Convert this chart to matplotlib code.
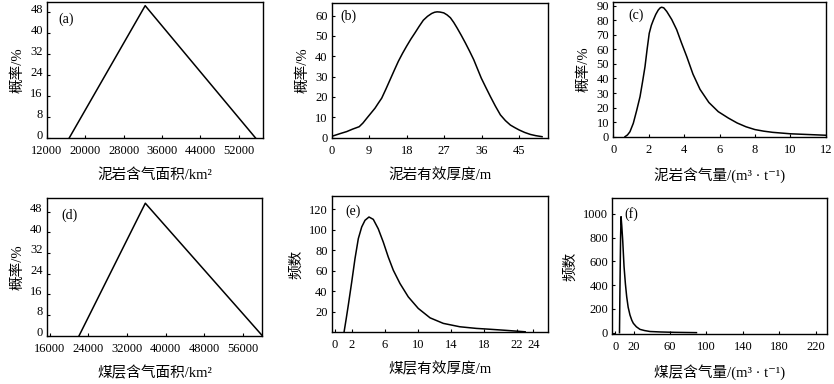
import matplotlib
matplotlib.use("Agg")
import matplotlib.pyplot as plt
import matplotlib.transforms as mtransforms

plt.rcParams["font.family"] = ["Liberation Serif", "Noto Sans CJK SC", "DejaVu Serif"]
plt.rcParams["font.size"] = 9
plt.rcParams["axes.linewidth"] = 1.0

# (a) mudstone gas-bearing area, triangular distribution
a_x = [16600, 32500, 55600]
a_y = [0, 50.6, 0]
a_ticks = [12000, 20000, 28000, 36000, 44000, 52000]

# (b) mudstone effective thickness
b_x = [0.2, 2, 3.6, 5, 6.6, 7.5, 8.4, 9.4, 10.4, 11.2, 12, 13, 14, 15, 16, 17, 18, 19, 20, 21, 22, 23, 24,
       24.7, 25.3, 26, 26.9, 27.7, 28.5, 29.3, 30.1, 31.1, 32.1, 33.1, 34.1, 35, 35.9, 37, 38.1, 39.3, 40.5,
       41.7, 42.9, 44, 45, 46.3, 47.7, 49, 50.5]
b_y = [0.8, 2, 3, 4.2, 5.4, 7.2, 9.5, 12, 14.5, 17, 19.4, 23.8, 28.4, 33, 37.5, 41.4, 45, 48.4, 51.5, 54.7,
       57.7, 59.6, 61, 61.6, 61.8, 61.7, 61.3, 60.3, 58.9, 56.6, 53.9, 50.3, 46.5, 42.5, 38.3, 33.8, 29.3,
       24.7, 20.2, 15.5, 11.2, 8.4, 6.2, 4.9, 3.8, 2.6, 1.6, 1, 0.5]
b_ticks = [0, 9, 18, 27, 36, 45]

# (c) mudstone gas content
c_x = [0.66, 0.8, 0.94, 1.13, 1.32, 1.51, 1.65, 1.79, 1.91, 2.03, 2.15, 2.26, 2.4, 2.54, 2.65, 2.73, 2.85,
       3.02, 3.3, 3.58, 3.85, 4.15, 4.5, 4.9, 5.4, 5.93, 6.5, 7, 7.5, 8, 8.5, 9, 10, 11, 12]
c_y = [0, 1.2, 3.4, 9.2, 18, 27.5, 37.5, 48, 60, 71, 76.5, 80, 84, 87, 88.5, 88.9, 88.5, 86, 80.5, 73.5, 64.5,
       55, 43, 32.5, 23.5, 17.2, 12.8, 9.4, 6.8, 4.9, 3.8, 3, 2, 1.5, 1]
c_ticks = [0, 2, 4, 6, 8, 10, 12]

# (d) coal seam gas-bearing area
d_x = [22100, 35800, 60000]
d_y = [0, 51.3, 0]
d_ticks = [16000, 24000, 32000, 40000, 48000, 56000]

# (e) coal seam effective thickness
e_x = [1.09, 1.35, 1.61, 2.02, 2.42, 2.82, 3.23, 3.63, 4.11, 4.63, 5.23, 5.84, 6.44, 7.05, 7.86, 8.86, 10.07,
       11.5, 13.1, 15.1, 17.1, 18.5, 20.5, 23]
e_y = [0, 13, 26.6, 49, 72, 91.4, 102.8, 109.3, 112.5, 110.2, 101, 88, 73.5, 60.6, 47.6, 34.6, 23.3, 14.1,
       8.7, 5.4, 3.8, 3.1, 2, 0.5]
e_ticks = [0, 2, 6, 10, 14, 18, 22, 24]

# (f) coal seam gas content
f_x = [4.5, 4.9, 5.2, 5.7, 6.2, 7, 8, 9.5, 11, 12.4, 14, 16, 18, 19.7, 23, 27, 32, 38, 50, 65, 89]
f_y = [0, 300, 500, 800, 977, 900, 781, 556, 410, 303, 215, 149, 105, 79, 50, 28, 18, 10, 6, 3, 0.5]
f_ticks = [0, 20, 60, 100, 140, 180, 220]

fig = plt.figure(figsize=(8.34, 3.84), dpi=100)

W, H = 834, 384


def add_ax(l, r, t, b):
    return fig.add_axes([l / W, 1 - b / H, (r - l) / W, (b - t) / H])


panels = [
    dict(box=(47, 263, 2, 138.3), x=a_x, y=a_y, xt=a_ticks, xlim=(12200, 57100), ylim=(0, 52),
         yt=[0, 8, 16, 24, 32, 40, 48], xl="泥岩含气面积/km²", yl="概率/%", tag="(a)", tp=(0.052, 0.875)),
    dict(box=(331.7, 548.3, 3.3, 137.7), x=b_x, y=b_y, xt=b_ticks, xlim=(0, 52), ylim=(0, 66),
         yt=[0, 10, 20, 30, 40, 50, 60], xl="泥岩有效厚度/m", yl="概率/%", tag="(b)", tp=(0.038, 0.9)),
    dict(box=(613.3, 825.7, 2, 136.7), x=c_x, y=c_y, xt=c_ticks, xlim=(0, 12), ylim=(0, 92.5),
         yt=[0, 10, 20, 30, 40, 50, 60, 70, 80, 90], xl="泥岩含气量/(m³ · t⁻¹)", yl="概率/%", tag="(c)",
         tp=(0.07, 0.9)),
    dict(box=(46.7, 262.3, 198.3, 335.7), x=d_x, y=d_y, xt=d_ticks, xlim=(15400, 60000), ylim=(0, 53.2),
         yt=[0, 8, 16, 24, 32, 40, 48], xl="煤层含气面积/km²", yl="概率/%", tag="(d)", tp=(0.07, 0.88)),
    dict(box=(331.7, 548.3, 196, 332.3), x=e_x, y=e_y, xt=e_ticks, xlim=(-0.4, 25.8), ylim=(0, 133),
         yt=[20, 40, 60, 80, 100, 120], xl="煤层有效厚度/m", yl="频数", tag="(e)", tp=(0.061, 0.885)),
    dict(box=(612.3, 826.7, 198.3, 334), x=f_x, y=f_y, xt=f_ticks, xlim=(-3.4, 232), ylim=(-11, 1132),
         yt=[0, 200, 400, 600, 800, 1000], xl="煤层含气量/(m³ · t⁻¹)", yl="频数", tag="(f)", tp=(0.056, 0.885)),
]

# nudge y tick labels up a little so "0" clears the first x label, like the reference
nudge = mtransforms.ScaledTranslation(0, 3 / 72, fig.dpi_scale_trans)

for p in panels:
    ax = add_ax(*p["box"])
    ax.plot(p["x"], p["y"], color="black", linewidth=1.1)
    ax.set_xlim(*p["xlim"])
    ax.set_ylim(*p["ylim"])
    ax.set_xticks(p["xt"])
    ax.set_yticks(p["yt"])
    ax.tick_params(direction="in", length=2.5, width=0.8, labelsize=9)
    ax.tick_params(axis="x", pad=5)
    ax.tick_params(axis="y", pad=3)
    if p["tag"] in ("(a)", "(d)"):
        for lab in ax.get_yticklabels():
            lab.set_transform(lab.get_transform() + nudge)
    ax.set_xlabel(p["xl"], fontsize=10.5, labelpad=8)
    ax.set_ylabel(p["yl"], fontsize=10.5, labelpad=4)
    ax.text(p["tp"][0], p["tp"][1], p["tag"], transform=ax.transAxes, fontsize=10, va="center", ha="left")

fig.savefig("out.png", dpi=100)
